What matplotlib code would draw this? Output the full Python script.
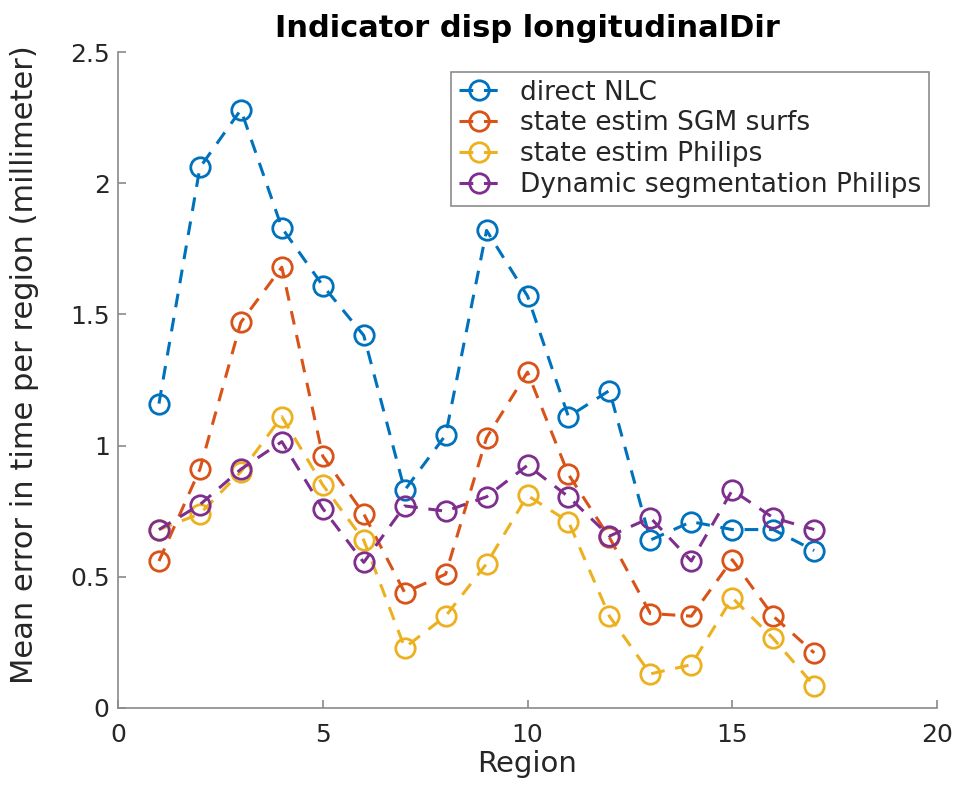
import matplotlib
matplotlib.use('Agg')
import matplotlib.pyplot as plt
import numpy as np

#Data
#-----------------------------------------------------------
regions = list(range(1, 18))
direct_nlc = [1.16, 2.06, 2.28, 1.83, 1.61, 1.42, 0.83, 1.04, 1.82, 1.57,
              1.11, 1.21, 0.64, 0.71, 0.68, 0.68, 0.60]
sgm_surfs = [0.56, 0.91, 1.47, 1.68, 0.96, 0.74, 0.44, 0.51, 1.03, 1.28,
             0.89, 0.65, 0.36, 0.35, 0.565, 0.35, 0.21]
estim_philips = [0.68, 0.74, 0.90, 1.11, 0.85, 0.64, 0.23, 0.35, 0.55, 0.81,
                 0.71, 0.35, 0.13, 0.165, 0.42, 0.265, 0.085]
dyn_seg_philips = [0.68, 0.775, 0.91, 1.015, 0.76, 0.555, 0.77, 0.75, 0.805, 0.925,
                   0.805, 0.655, 0.725, 0.56, 0.83, 0.725, 0.68]
series_names = ['direct NLC', 'state estim SGM surfs', 'state estim Philips',
                'Dynamic segmentation Philips']
#-----------------------------------------------------------

plt.rcParams['font.family'] = ['DejaVu Sans']

colors = ['#0072BD', '#D95319', '#EDB120', '#7E2F8E']
all_series = [direct_nlc, sgm_surfs, estim_philips, dyn_seg_philips]

#Make Plot
#-----------------------------------------------------------
fig = plt.figure(figsize=(9.65, 7.93), dpi=100)
ax = fig.add_axes([0.1223, 0.1072, 0.8487, 0.8272])

for values, name, color in zip(all_series, series_names, colors):
    ax.plot(regions, values, linestyle=(0, (4.5, 3.5)), color=color, linewidth=2.2,
            marker='o', markersize=14, markerfacecolor='none',
            markeredgewidth=2.0, label=name)

ax.set_xlim(0, 20)
ax.set_ylim(0, 2.5)
ax.set_xticks([0, 5, 10, 15, 20])
ax.set_yticks([0, 0.5, 1, 1.5, 2, 2.5])
ax.set_yticklabels(['0', '0.5', '1', '1.5', '2', '2.5'])

for side in ['top', 'right']:
    ax.spines[side].set_visible(False)
for side in ['left', 'bottom']:
    ax.spines[side].set_color('#8a8a8a')
    ax.spines[side].set_linewidth(1.2)
ax.tick_params(direction='in', length=6, width=1.2, color='#8a8a8a',
               labelcolor='#262626', labelsize=18)
ax.tick_params(axis='x', pad=11)
ax.tick_params(axis='y', pad=6)

ax.set_xlabel('Region', fontsize=21, color='#262626', labelpad=2)
ax.set_ylabel('Mean error in time per region (millimeter)', fontsize=22,
              color='#262626')
ax.yaxis.set_label_coords(-0.097, 0.523)
ax.set_title('Indicator disp longitudinalDir', fontsize=22, fontweight='bold',
             color='black', pad=11)

leg = ax.legend(loc='upper right', bbox_to_anchor=(0.990, 0.970), fontsize=19,
                handlelength=1.5, handletextpad=0.8, labelspacing=0.18,
                borderpad=0.3, borderaxespad=0, fancybox=False, framealpha=1)
leg.get_frame().set_edgecolor('#8c8c8c')
leg.get_frame().set_linewidth(1.2)
for txt in leg.get_texts():
    txt.set_color('#262626')

fig.savefig('out.png', dpi=100)
#-----------------------------------------------------------
